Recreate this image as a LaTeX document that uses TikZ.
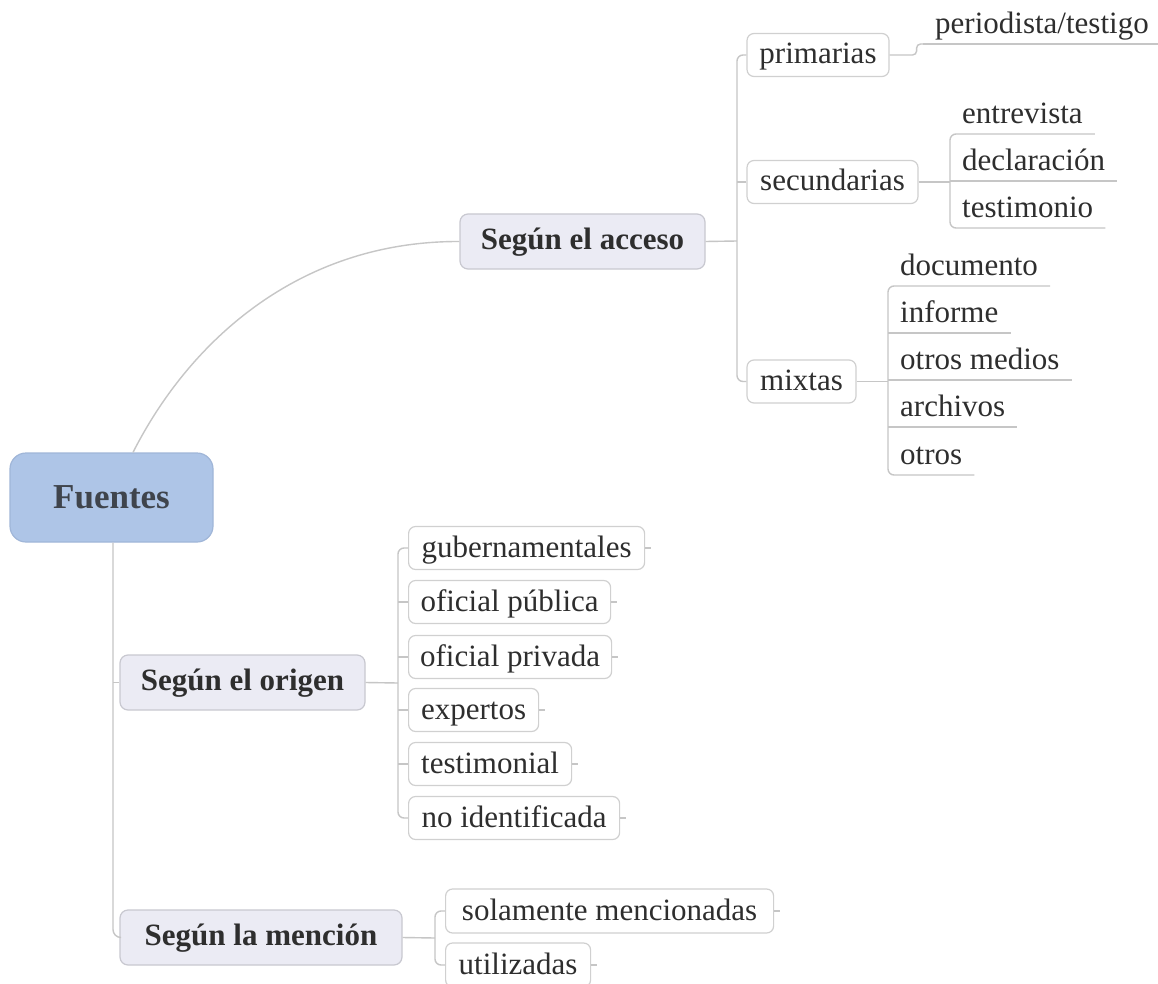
\documentclass[tikz,border=0pt]{standalone}
\usepackage{fontspec}
\setmainfont{LiberationSerif}[Extension=.ttf, UprightFont=*-Regular, BoldFont=*-Bold, ItalicFont=*-Italic, BoldItalicFont=*-BoldItalic]
\usetikzlibrary{calc}
\definecolor{lineC}{HTML}{C6C6C6}
\definecolor{rootFill}{HTML}{AEC5E7}
\definecolor{rootDraw}{HTML}{A0B6D8}
\definecolor{midFill}{HTML}{EBEBF4}
\definecolor{midDraw}{HTML}{C8C8D0}
\definecolor{leafDraw}{HTML}{D0D0D0}
\definecolor{txt}{HTML}{2E2E2E}
\definecolor{rootTxt}{HTML}{3F444C}
\begin{document}
\begin{tikzpicture}[x=1pt,y=-1pt,
  conn/.style={draw=lineC, line width=1.4pt},
  rootbox/.style={draw=rootDraw, fill=rootFill, line width=1.2pt, rounded corners=16pt,
    minimum width=203pt, minimum height=89pt, inner sep=0pt, text height=26.5pt, text depth=5.5pt,
    font=\fontsize{35}{40}\selectfont\bfseries, text=rootTxt},
  midbox/.style={draw=midDraw, fill=midFill, line width=1.2pt, rounded corners=8pt,
    minimum height=55pt, inner sep=0pt, text height=22pt, text depth=6pt,
    font=\fontsize{31}{36}\selectfont\bfseries, text=txt},
  leafbox/.style={draw=leafDraw, fill=white, line width=1.2pt, rounded corners=7pt,
    minimum height=43pt, inner sep=0pt, text height=23pt, text depth=5pt,
    font=\fontsize{31}{36}\selectfont, text=txt},
  uleaf/.style={inner xsep=12pt, inner ysep=3pt, text height=22pt, text depth=7pt,
    font=\fontsize{31}{36}\selectfont, text=txt, anchor=south west},
  tick/.style={conn}
]
\useasboundingbox (0,0) rectangle (1158,984);
\fill[white] (0,0) rectangle (1158,984);

% root and main branches
\node[rootbox] (fuentes) at (111.5,497.5) {Fuentes};
\node[midbox, minimum width=245pt] (acc) at (582.5,241.5) {Según el acceso};
\node[midbox, minimum width=245pt] (ori) at (242.5,682.5) {Según el origen};
\node[midbox, minimum width=282pt] (men) at (261,937.5) {Según la mención};

% acceso children
\node[leafbox, minimum width=142pt] (prim) at (818,55) {primarias};
\node[leafbox, minimum width=171pt] (sec) at (832.5,182) {secundarias};
\node[leafbox, minimum width=109pt] (mix) at (801.5,381.5) {mixtas};

\node[uleaf] (per) at (923,44) {periodista/testigo};
\node[uleaf] (ent) at (950,134) {entrevista};
\node[uleaf] (dec) at (950,181) {declaración};
\node[uleaf] (tes) at (950,228) {testimonio};
\node[uleaf] (doc) at (888,286) {documento};
\node[uleaf] (inf) at (888,333) {informe};
\node[uleaf] (otm) at (888,380) {otros medios};
\node[uleaf] (arc) at (888,427) {archivos};
\node[uleaf] (otr) at (888,475) {otros};

% origen children
\node[leafbox, anchor=west, minimum width=236pt] (gub) at (408,548) {gubernamentales};
\node[leafbox, anchor=west, minimum width=202pt] (pub) at (408,602) {oficial pública};
\node[leafbox, anchor=west, minimum width=203pt] (priv) at (408,657) {oficial privada};
\node[leafbox, anchor=west, minimum width=130pt] (exp) at (408,710) {expertos};
\node[leafbox, anchor=west, minimum width=163pt] (tstm) at (408,764) {testimonial};
\node[leafbox, anchor=west, minimum width=211pt] (noid) at (408,818) {no identificada};

% mencion children
\node[leafbox, anchor=west, minimum width=328pt, minimum height=44pt] (sol) at (445,911) {solamente mencionadas};
\node[leafbox, anchor=west, minimum width=145pt, minimum height=44pt] (util) at (445,965) {utilizadas};

% root connectors
\coordinate (rt) at ($(fuentes.north)+(21.5,0)$);
\coordinate (rs) at ($(fuentes.south)+(1.5,0)$);
\draw[conn] (rt) .. controls (190,340) and (300,241) .. (acc.west);
\draw[conn, rounded corners=8pt] (rs) |- (men.west);
\draw[conn] (rs |- ori.west) -- (ori.west);

% acceso connectors
\coordinate (ab) at (737,241);
\draw[conn] (acc.east) -- (ab);
\draw[conn, rounded corners=6pt] (prim.west) -| (ab |- mix.west) -- (mix.west);
\draw[conn] (sec.west) -- (sec.west -| ab);

\draw[conn, rounded corners=4pt] (prim.east) -- ($(prim.east)+(27,0)$) |- (per.south west);
\draw[conn] (per.south west) -- (per.south east);

\draw[conn] (sec.east) -- (sec.east -| dec.south west);
\draw[conn, rounded corners=6pt] (ent.south east) -- (ent.south west) -- (tes.south west) -- (tes.south east);
\draw[conn] (dec.south west) -- (dec.south east);

\draw[conn] (mix.east) -- (mix.east -| otm.south west);
\draw[conn, rounded corners=6pt] (doc.south east) -- (doc.south west) -- (otr.south west) -- (otr.south east);
\draw[conn] (inf.south west) -- (inf.south east);
\draw[conn] (otm.south west) -- (otm.south east);
\draw[conn] (arc.south west) -- (arc.south east);

% origen connectors
\coordinate (ob) at (398,683);
\draw[conn] (ori.east) -- (ob);
\draw[conn, rounded corners=6pt] (gub.west) -| (ob |- noid.west) -- (noid.west);
\draw[conn] (pub.west) -- (pub.west -| ob);
\draw[conn] (priv.west) -- (priv.west -| ob);
\draw[conn] (exp.west) -- (exp.west -| ob);
\draw[conn] (tstm.west) -- (tstm.west -| ob);
\foreach \n in {gub,pub,priv,exp,tstm,noid} {\draw[tick] (\n.east) -- ++(6,0);}

% mencion connectors
\coordinate (mb) at (435,938);
\draw[conn] (men.east) -- (mb);
\draw[conn, rounded corners=6pt] (sol.west) -| (mb |- util.west) -- (util.west);
\foreach \n in {sol,util} {\draw[tick] (\n.east) -- ++(6,0);}
\end{tikzpicture}
\end{document}
